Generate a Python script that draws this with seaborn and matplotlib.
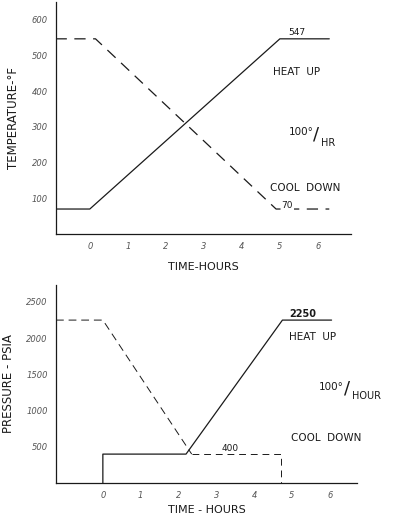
import matplotlib
matplotlib.use("Agg")
import matplotlib.pyplot as plt
import seaborn as sns
import pandas as pd

# ---- data ----
temp_heat_time = [-0.9, 0.0, 5.0, 6.3]
temp_heat_val = [70, 70, 547, 547]
temp_cool_time = [-0.9, 0.15, 4.9, 6.3]
temp_cool_val = [547, 547, 70, 70]
temp_xticks = [0, 1, 2, 3, 4, 5, 6]
temp_yticks = [100, 200, 300, 400, 500, 600]

press_heat_time = [0.0, 0.0, 2.2, 4.75, 6.05]
press_heat_val = [0, 400, 400, 2250, 2250]
press_cool_slope_time = [-1.24, 0.0, 2.35]
press_cool_slope_val = [2250, 2250, 400]
press_cool_tail_time = [2.35, 4.7, 4.7]
press_cool_tail_val = [400, 400, 0]
press_xticks = [0, 1, 2, 3, 4, 5, 6]
press_yticks = [500, 1000, 1500, 2000, 2500]

sns.set_theme(style="white")
plt.rcParams["font.family"] = ["DejaVu Sans"]

fig = plt.figure(figsize=(3.97, 5.2), dpi=100)
ax1 = fig.add_axes([0.141, 0.55, 0.743, 0.446])
ax2 = fig.add_axes([0.141, 0.071, 0.758, 0.381])

ink = "#1a1a1a"

def style(ax):
    for s in ["top", "right"]:
        ax.spines[s].set_visible(False)
    for s in ["left", "bottom"]:
        ax.spines[s].set_color(ink)
        ax.spines[s].set_linewidth(0.9)
    ax.tick_params(axis="both", direction="inout", length=4, width=0.7,
                   colors=ink, labelsize=6, labelcolor="#555555", pad=4)
    for lab in ax.get_xticklabels() + ax.get_yticklabels():
        lab.set_fontstyle("italic")
    ax.grid(False)

# ---- top: temperature ----
df_th = pd.DataFrame({"t": temp_heat_time, "v": temp_heat_val})
df_tc = pd.DataFrame({"t": temp_cool_time, "v": temp_cool_val})
sns.lineplot(data=df_th, x="t", y="v", ax=ax1, sort=False, estimator=None,
             color=ink, linewidth=0.9)
sns.lineplot(data=df_tc, x="t", y="v", ax=ax1, sort=False, estimator=None,
             color=ink, linewidth=0.9, linestyle=(0, (9, 6)))
ax1.set_xlim(-0.89, 6.87)
ax1.set_ylim(0, 650)
ax1.set_xticks(temp_xticks)
ax1.set_yticks(temp_yticks)
ax1.set_xticklabels([str(v) for v in temp_xticks])
ax1.set_yticklabels([str(v) for v in temp_yticks])
ax1.set_xlabel("TIME-HOURS", fontsize=8, color=ink, labelpad=8)
ax1.set_ylabel("TEMPERATURE-°F", fontsize=8.5, color=ink, labelpad=8)
style(ax1)

ax1.text(5.45, 551, "547", fontsize=6.5, ha="center", va="bottom", color=ink)
ax1.text(5.45, 455, "HEAT  UP", fontsize=7.5, ha="center", va="center", color=ink)
ax1.text(5.55, 285, "100°", fontsize=7.5, ha="center", va="center", color=ink)
ax1.text(5.95, 278, "/", fontsize=13, ha="center", va="center", color=ink)
ax1.text(6.28, 255, "HR", fontsize=7, ha="center", va="center", color=ink)
ax1.text(5.66, 128, "COOL  DOWN", fontsize=7.5, ha="center", va="center", color=ink)
ax1.text(5.2, 68, "70", fontsize=6.5, ha="center", va="bottom", color=ink,
         bbox=dict(facecolor="white", edgecolor="none", pad=0.5))

# ---- bottom: pressure ----
df_ph = pd.DataFrame({"t": press_heat_time, "v": press_heat_val})
df_ps = pd.DataFrame({"t": press_cool_slope_time, "v": press_cool_slope_val})
df_pt = pd.DataFrame({"t": press_cool_tail_time, "v": press_cool_tail_val})
sns.lineplot(data=df_ph, x="t", y="v", ax=ax2, sort=False, estimator=None,
             color=ink, linewidth=0.9)
sns.lineplot(data=df_ps, x="t", y="v", ax=ax2, sort=False, estimator=None,
             color=ink, linewidth=0.7, linestyle=(0, (8, 5)))
sns.lineplot(data=df_pt, x="t", y="v", ax=ax2, sort=False, estimator=None,
             color=ink, linewidth=0.7, linestyle=(0, (7, 5)))
ax2.set_xlim(-1.24, 6.72)
ax2.set_ylim(0, 2735)
ax2.set_xticks(press_xticks)
ax2.set_yticks(press_yticks)
ax2.set_xticklabels([str(v) for v in press_xticks])
ax2.set_yticklabels([str(v) for v in press_yticks])
ax2.set_xlabel("TIME - HOURS", fontsize=8, color=ink, labelpad=3)
ax2.set_ylabel("PRESSURE - PSIA", fontsize=8.5, color=ink, labelpad=8)
style(ax2)

ax2.text(5.3, 2260, "2250", fontsize=7, ha="center", va="bottom", color=ink,
         fontweight="bold")
ax2.text(5.55, 2010, "HEAT  UP", fontsize=7.5, ha="center", va="center", color=ink)
ax2.text(6.05, 1330, "100°", fontsize=7.5, ha="center", va="center", color=ink)
ax2.text(6.45, 1300, "/", fontsize=13, ha="center", va="center", color=ink)
ax2.text(6.98, 1200, "HOUR", fontsize=7, ha="center", va="center", color=ink)
ax2.text(5.9, 620, "COOL  DOWN", fontsize=7.5, ha="center", va="center", color=ink)
ax2.text(3.36, 410, "400", fontsize=6.5, ha="center", va="bottom", color=ink,
         bbox=dict(facecolor="white", edgecolor="none", pad=0.5))

fig.savefig("out.png", dpi=100, facecolor="white")
